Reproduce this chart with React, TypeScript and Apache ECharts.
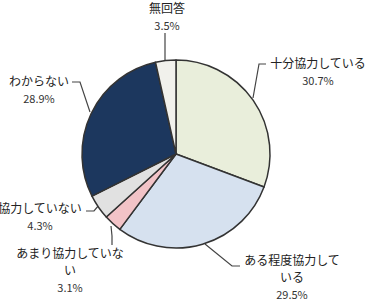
import React, { useEffect, useRef } from "react";
import * as echarts from "echarts";

const categories = [
  "十分協力している",
  "ある程度協力している",
  "あまり協力していない",
  "協力していない",
  "わからない",
  "無回答",
];
const values = [30.7, 29.5, 3.1, 4.3, 28.9, 3.5];
const colors = ["#e9eedb", "#d6e1ef", "#f2c3c7", "#e1e1e1", "#1c375e", "#f1f1ec"];

// label layout (anchor x, top y) and leader lines
const labelPos: [number, number][] = [
  [318, 54],
  [292, 251],
  [70, 244],
  [40, 199],
  [39, 72],
  [167, -1],
];
const breaks: Record<string, string> = {
  "ある程度協力している": "ある程度協力して\nいる",
  "あまり協力していない": "あまり協力していな\nい",
};
const leaderLines: number[][][] = [
  [[253, 98], [259, 64], [266, 64]],
  [[205, 244], [232, 266], [240, 266]],
  [[111, 226], [112, 236], [112, 245]],
  [[99, 205], [94, 211], [86, 211]],
  [[90, 112], [80, 82], [72, 82]],
  [[165, 62], [165, 48], [165, 33]],
];

export default function App() {
  const ref = useRef<HTMLDivElement>(null);
  useEffect(() => {
    if (!ref.current) return;
    const chart = echarts.init(ref.current, null, { renderer: "svg" });
    chart.setOption({
      animation: false,
      backgroundColor: "#ffffff",
      textStyle: { fontFamily: "Noto Sans CJK JP" },
      series: [
        {
          type: "pie",
          center: [176, 154],
          radius: 94,
          startAngle: 90,
          clockwise: true,
          avoidLabelOverlap: false,
          data: categories.map((c, i) => ({
            name: c,
            value: values[i],
            itemStyle: { color: colors[i] },
          })),
          itemStyle: { borderColor: "#333333", borderWidth: 1.5 },
          label: {
            show: true,
            position: "outside",
            formatter: (p: any) =>
              `{n|${(breaks[p.name] || p.name)}}\n{p|${p.value.toFixed(1)}%}`,
            color: "#222",
            align: "center",
            lineHeight: 17,
            rich: {
              n: { fontSize: 12, lineHeight: 17, color: "#222", fontFamily: "Noto Sans CJK JP", align: "center" },
              p: { fontSize: 11, lineHeight: 17, color: "#333", fontFamily: "Noto Sans CJK JP", align: "center" },
            },
          },
          labelLine: {
            show: true,
            lineStyle: { color: "#444", width: 1.2 },
          },
          labelLayout: (params: any) => {
            const i = params.dataIndex;
            return {
              x: labelPos[i][0],
              y: labelPos[i][1],
              align: "center",
              verticalAlign: "top",
              labelLinePoints: leaderLines[i],
            };
          },
        },
      ],
    });
    return () => chart.dispose();
  }, []);
  return <div ref={ref} style={{ width: 371, height: 300, position: "absolute", left: 0, top: 0 }} />;
}
